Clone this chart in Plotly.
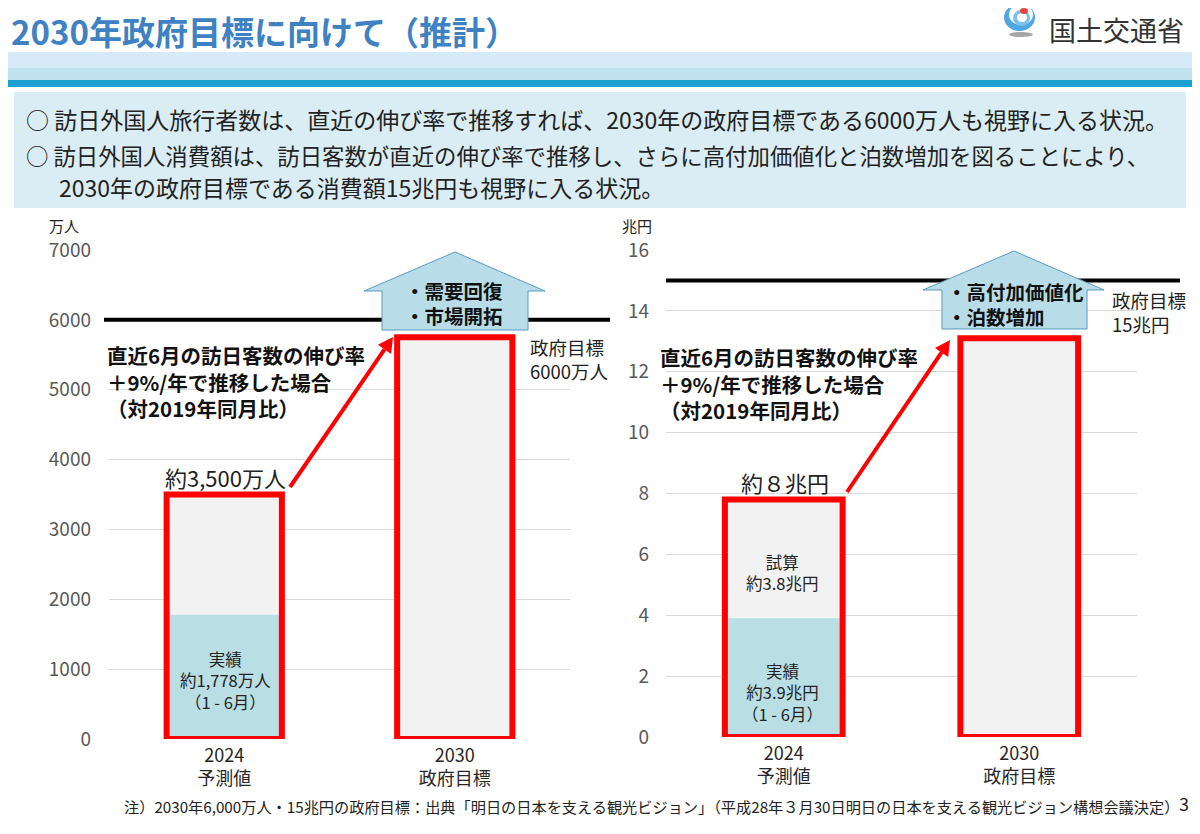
import math
import plotly.graph_objects as go

# page is 1200x834; body keeps its 8px margin, so the figure is 16px smaller
OFF = 8
W, H = 1200 - 2 * OFF, 834 - 2 * OFF
FONT = "Noto Sans CJK JP"

# --- data ---
categories = ["2024<br>予測値", "2030<br>政府目標"]

visitor_total = [3500, 5750]       # 万人
visitor_actual = [1778, None]      # 万人 (1-6月 実績)
visitor_target = 6000
visitor_ticks = [0, 1000, 2000, 3000, 4000, 5000, 6000, 7000]

spend_total = [7.8, 13.1]          # 兆円
spend_actual = [3.9, None]         # 兆円 (1-6月 実績)
spend_target = 15
spend_ticks = [0, 2, 4, 6, 8, 10, 12, 14, 16]

GREY = "#f2f2f2"
BLUE = "#b9dfe5"
RED = "#ff0000"


def px(x):
    return (x - OFF) / W


def py(y):
    return 1 - (y - OFF) / H


def add_bars(fig, xa, ya, totals, actual):
    fig.add_trace(go.Bar(x=categories, y=totals, width=0.5, xaxis=xa, yaxis=ya,
                         marker=dict(color=GREY, line=dict(width=0)),
                         hoverinfo="skip", showlegend=False))
    fig.add_trace(go.Bar(x=categories, y=actual, width=0.5, xaxis=xa, yaxis=ya,
                         marker=dict(color=BLUE, line=dict(width=0)),
                         hoverinfo="skip", showlegend=False))
    # red frame on top
    fig.add_trace(go.Bar(x=categories, y=totals, width=0.5, xaxis=xa, yaxis=ya,
                         marker=dict(color="rgba(0,0,0,0)", line=dict(width=6, color=RED)),
                         hoverinfo="skip", showlegend=False))


fig = go.Figure()
add_bars(fig, "x", "y", visitor_total, visitor_actual)
add_bars(fig, "x2", "y2", spend_total, spend_actual)

axis_common = dict(showline=False, zeroline=False, ticks="", fixedrange=True, automargin=False)
xtick_font = dict(size=18, color="#262626", family=FONT)
ytick_font = dict(size=19, color="#595959", family=FONT)

fig.update_layout(
    width=W, height=H,
    margin=dict(l=0, r=0, t=0, b=0, pad=0, autoexpand=False),
    paper_bgcolor="white", plot_bgcolor="white",
    barmode="overlay",
    font=dict(family=FONT, color="#222"),
    xaxis=dict(domain=[px(109), px(570)], anchor="y", range=[-0.5, 1.5],
               showgrid=False, tickfont=xtick_font, ticklabelstandoff=4, **axis_common),
    yaxis=dict(domain=[py(739), py(250)], anchor="x", range=[0, 7000],
               tickvals=visitor_ticks, gridcolor="#d9d9d9", gridwidth=1,
               tickfont=ytick_font, ticklabelstandoff=17, **axis_common),
    xaxis2=dict(domain=[px(666), px(1137)], anchor="y2", range=[-0.5, 1.5],
                showgrid=False, tickfont=xtick_font, ticklabelstandoff=4, **axis_common),
    yaxis2=dict(domain=[py(737), py(250)], anchor="x2", range=[0, 16],
                tickvals=spend_ticks, gridcolor="#d9d9d9", gridwidth=1,
                tickfont=ytick_font, ticklabelstandoff=16, **axis_common),
)


def rect(x0, x1, y0, y1, color, layer="below"):
    return dict(type="rect", xref="paper", yref="paper", x0=px(x0), x1=px(x1),
                y0=py(y1), y1=py(y0), fillcolor=color, line=dict(width=0), layer=layer)


def circle(x0, x1, y0, y1, color):
    return dict(type="circle", xref="paper", yref="paper", x0=px(x0), x1=px(x1),
                y0=py(y1), y1=py(y0), fillcolor=color, line=dict(width=0))


def polygon(pts, color, line=None):
    path = "M " + " L ".join(f"{px(a):.5f},{py(b):.5f}" for a, b in pts) + " Z"
    return dict(type="path", xref="paper", yref="paper", path=path, fillcolor=color,
                line=line or dict(width=0))


shapes = [
    # header bands
    rect(0, 1200, 52, 68, "#d6ebf7"),
    rect(0, 1200, 68, 80, "#c0e3ef"),
    rect(0, 1200, 80, 87, "#1ba1d1"),
    # message box
    rect(14, 1186, 92, 208, "#daedf4"),
    # target lines
    dict(type="line", xref="paper", yref="y", x0=px(104), x1=px(610),
         y0=visitor_target, y1=visitor_target, line=dict(color="black", width=4)),
    dict(type="line", xref="paper", yref="y2", x0=px(666), x1=px(1180),
         y0=spend_target, y1=spend_target, line=dict(color="black", width=4)),
]


def house(x0, x1, xw0, xw1, xa, y_top, y_wing, y_bot):
    pts = [(x0, y_bot), (x0, y_wing), (xw0, y_wing), (xa, y_top),
           (xw1, y_wing), (x1, y_wing), (x1, y_bot)]
    return polygon(pts, "#b8dce8", dict(color="#5b9bbd", width=1))


shapes.append(house(382, 528, 364, 545, 455, 252, 291, 330))
shapes.append(house(942, 1087, 923, 1104, 1014, 251, 290, 329))


def arrow(tail, head, size=15, half=8):
    dx, dy = head[0] - tail[0], head[1] - tail[1]
    n = math.hypot(dx, dy)
    ux, uy = dx / n, dy / n
    bx, by = head[0] - ux * size, head[1] - uy * size
    line = dict(type="line", xref="paper", yref="paper",
                x0=px(tail[0]), y0=py(tail[1]), x1=px(bx), y1=py(by),
                line=dict(color=RED, width=4))
    tip = polygon([head, (bx - uy * half, by + ux * half), (bx + uy * half, by - ux * half)], RED)
    return [line, tip]


# growth arrows
shapes += arrow((290, 487), (393, 337))
shapes += arrow((847, 492), (950, 340))

# logo emblem (simplified)
shapes += [
    circle(1004, 1035, 4, 31, "#4fa7e0"),
    circle(1009, 1033, 4, 25, "white"),
    circle(1013, 1030, 10, 26, "#7cc3ec"),
    circle(1017, 1027, 13, 22, "white"),
    circle(1020, 1028, 8, 14, "#e8413c"),
    circle(1009, 1033, 32, 37, "#a6a6a6"),
]

fig.update_layout(shapes=shapes)


def note(x, y, text, size, xanchor="left", yanchor="middle", color="#222",
         bold=False, align="left"):
    if bold:
        text = "<b>" + text.replace("<br>", "</b><br><b>") + "</b>"
    fig.add_annotation(x=px(x), y=py(y), xref="paper", yref="paper", text=text,
                       showarrow=False, xanchor=xanchor, yanchor=yanchor, align=align,
                       font=dict(size=size, color=color, family=FONT))


# header
note(9, 31, "2030年政府目標に向けて（推計）", 33, color="#3f82c4", bold=True)
note(1047, 8, "国土交通省", 27, yanchor="top", color="#333333")

# message box lines
note(24, 119, "○ 訪日外国人旅行者数は、直近の伸び率で推移すれば、2030年の政府目標である6000万人も視野に入る状況。", 23)
note(24, 155, "○ 訪日外国人消費額は、訪日客数が直近の伸び率で推移し、さらに高付加価値化と泊数増加を図ることにより、", 22.4)
note(57, 187, "2030年の政府目標である消費額15兆円も視野に入る状況。", 23)

# axis units
note(64, 225, "万人", 15, xanchor="center")
note(637, 225, "兆円", 15, xanchor="center")

growth = "直近6月の訪日客数の伸び率<br>＋9%/年で推移した場合<br>（対2019年同月比）"

# left chart texts
note(105, 381, growth, 20.5, bold=True, color="#111")
note(225, 477, "約3,500万人", 22, xanchor="center")
note(225, 680, "実績<br>約1,778万人<br>（1 - 6月）", 16.5, xanchor="center", align="center")
note(528, 359, "政府目標<br>6000万人", 18.5)
note(403, 303, "・需要回復<br>・市場開拓", 19.5, bold=True, color="#111")

# right chart texts
note(658, 383, growth, 20.5, bold=True, color="#111")
note(785, 482, "約８兆円", 22, xanchor="center")
note(782, 572, "試算<br>約3.8兆円", 16.5, xanchor="center", align="center")
note(782, 692, "実績<br>約3.9兆円<br>（1 - 6月）", 16.5, xanchor="center", align="center")
note(1110, 312, "政府目標<br>15兆円", 18.5)
note(945, 304, "・高付加価値化<br>・泊数増加", 19.5, bold=True, color="#111")

# footnote and page number
note(122, 806, "注）2030年6,000万人・15兆円の政府目標：出典「明日の日本を支える観光ビジョン」（平成28年３月30日明日の日本を支える観光ビジョン構想会議決定）", 15.2)
note(1184, 803, "3", 18, xanchor="center")

fig.write_html("out.html")
